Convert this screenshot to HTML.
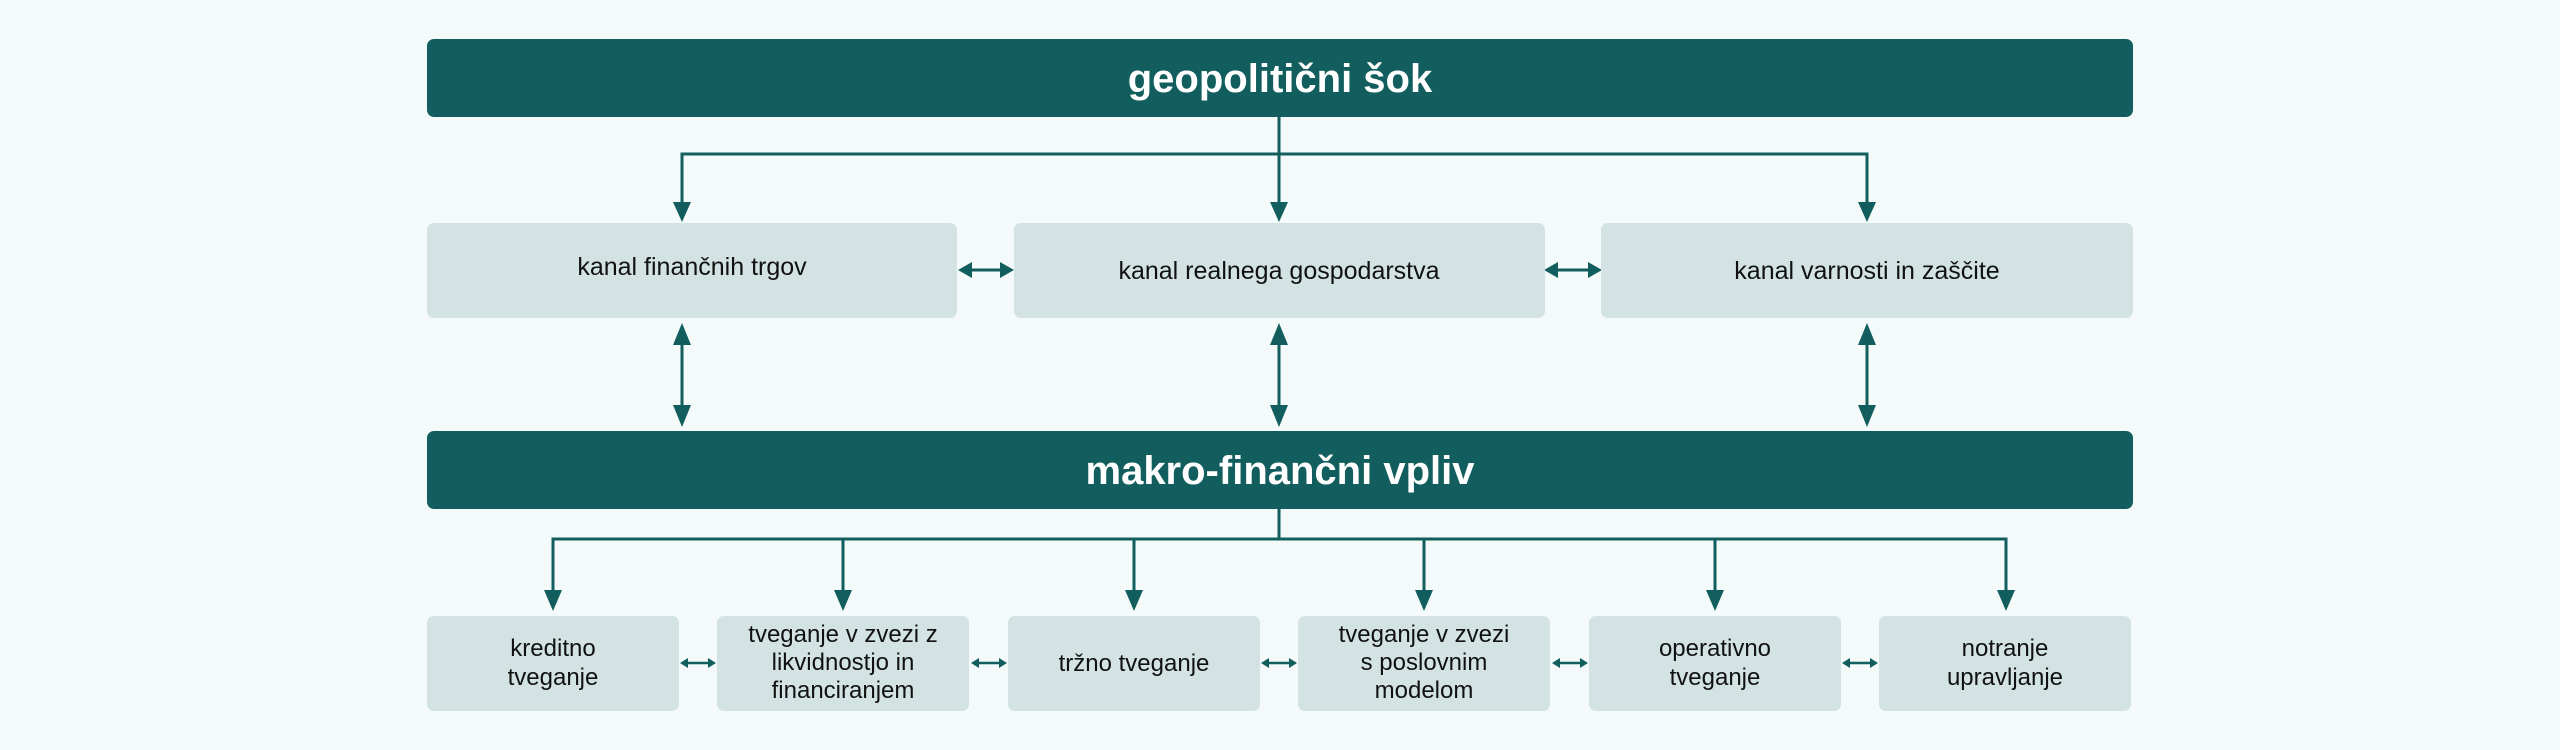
<!DOCTYPE html>
<html><head><meta charset="utf-8"><style>
html,body{margin:0;padding:0;background:#f4f9f9;}
svg{display:block;font-family:"Liberation Sans",sans-serif;}
</style></head><body>
<svg width="2560" height="750" viewBox="0 0 2560 750" xmlns="http://www.w3.org/2000/svg">
<rect width="2560" height="750" fill="#f4f9f9"/>
<g fill="none" stroke="#125e5e" stroke-width="3">
<path d="M1279,117 V202"/>
<path d="M682,202 V154 H1867 V202"/>
<path d="M682,345 V405"/><path d="M1279,345 V405"/><path d="M1867,345 V405"/>
<path d="M972,270 H1000"/><path d="M1558,270 H1588"/>
<path d="M1279,509 V539"/>
<path d="M553,592 V539 H2006 V592"/>
<path d="M843,539 V592"/><path d="M1134,539 V592"/><path d="M1424,539 V592"/><path d="M1715,539 V592"/>
</g>
<g stroke="#125e5e" stroke-width="2.5">
<path d="M688,663 H708"/><path d="M979,663 H999"/><path d="M1269,663 H1289"/><path d="M1560,663 H1580"/><path d="M1850,663 H1870"/>
</g>
<g fill="#125e5e">
<path d="M673,202 L691,202 L682,222 z"/><path d="M1270,202 L1288,202 L1279,222 z"/><path d="M1858,202 L1876,202 L1867,222 z"/>
<path d="M673,345 L691,345 L682,323 z"/><path d="M673,405 L691,405 L682,427 z"/>
<path d="M1270,345 L1288,345 L1279,323 z"/><path d="M1270,405 L1288,405 L1279,427 z"/>
<path d="M1858,345 L1876,345 L1867,323 z"/><path d="M1858,405 L1876,405 L1867,427 z"/>
<path d="M972,262 L972,278 L958,270 z"/><path d="M1000,262 L1000,278 L1014,270 z"/>
<path d="M1558,262 L1558,278 L1544,270 z"/><path d="M1588,262 L1588,278 L1602,270 z"/>
<path d="M544,590 L562,590 L553,611 z"/><path d="M834,590 L852,590 L843,611 z"/><path d="M1125,590 L1143,590 L1134,611 z"/><path d="M1415,590 L1433,590 L1424,611 z"/><path d="M1706,590 L1724,590 L1715,611 z"/><path d="M1997,590 L2015,590 L2006,611 z"/>
<path d="M688,658 L688,668 L680,663 z"/><path d="M708,658 L708,668 L716,663 z"/>
<path d="M979,658 L979,668 L971,663 z"/><path d="M999,658 L999,668 L1007,663 z"/>
<path d="M1269,658 L1269,668 L1261,663 z"/><path d="M1289,658 L1289,668 L1297,663 z"/>
<path d="M1560,658 L1560,668 L1552,663 z"/><path d="M1580,658 L1580,668 L1588,663 z"/>
<path d="M1850,658 L1850,668 L1842,663 z"/><path d="M1870,658 L1870,668 L1878,663 z"/>
</g>
<rect x="427" y="39" width="1706" height="78" rx="7" fill="#125e5e"/>
<rect x="427" y="431" width="1706" height="78" rx="7" fill="#125e5e"/>
<text x="1280" y="92" font-size="40" font-weight="bold" fill="#fff" text-anchor="middle">geopolitični šok</text>
<text x="1280" y="484" font-size="40" font-weight="bold" fill="#fff" text-anchor="middle">makro-finančni vpliv</text>
<g fill="#d3e3e3">
<rect x="427" y="223" width="530" height="95" rx="7"/>
<rect x="1014" y="223" width="531" height="95" rx="7"/>
<rect x="1601" y="223" width="532" height="95" rx="7"/>
<rect x="427" y="616" width="252" height="95" rx="7"/>
<rect x="717" y="616" width="252" height="95" rx="7"/>
<rect x="1008" y="616" width="252" height="95" rx="7"/>
<rect x="1298" y="616" width="252" height="95" rx="7"/>
<rect x="1589" y="616" width="252" height="95" rx="7"/>
<rect x="1879" y="616" width="252" height="95" rx="7"/>
</g>
<g font-size="25" fill="#111" text-anchor="middle">
<text x="692" y="275">kanal finančnih trgov</text>
<text x="1279" y="279">kanal realnega gospodarstva</text>
<text x="1867" y="279">kanal varnosti in zaščite</text>
</g>
<g font-size="24" fill="#111" text-anchor="middle">
<text x="553" y="656">kreditno</text><text x="553" y="685">tveganje</text>
<text x="843" y="642">tveganje v zvezi z</text><text x="843" y="670">likvidnostjo in</text><text x="843" y="698">financiranjem</text>
<text x="1134" y="671">tržno tveganje</text>
<text x="1424" y="642">tveganje v zvezi</text><text x="1424" y="670">s poslovnim</text><text x="1424" y="698">modelom</text>
<text x="1715" y="656">operativno</text><text x="1715" y="685">tveganje</text>
<text x="2005" y="656">notranje</text><text x="2005" y="685">upravljanje</text>
</g>
</svg>
</body></html>
